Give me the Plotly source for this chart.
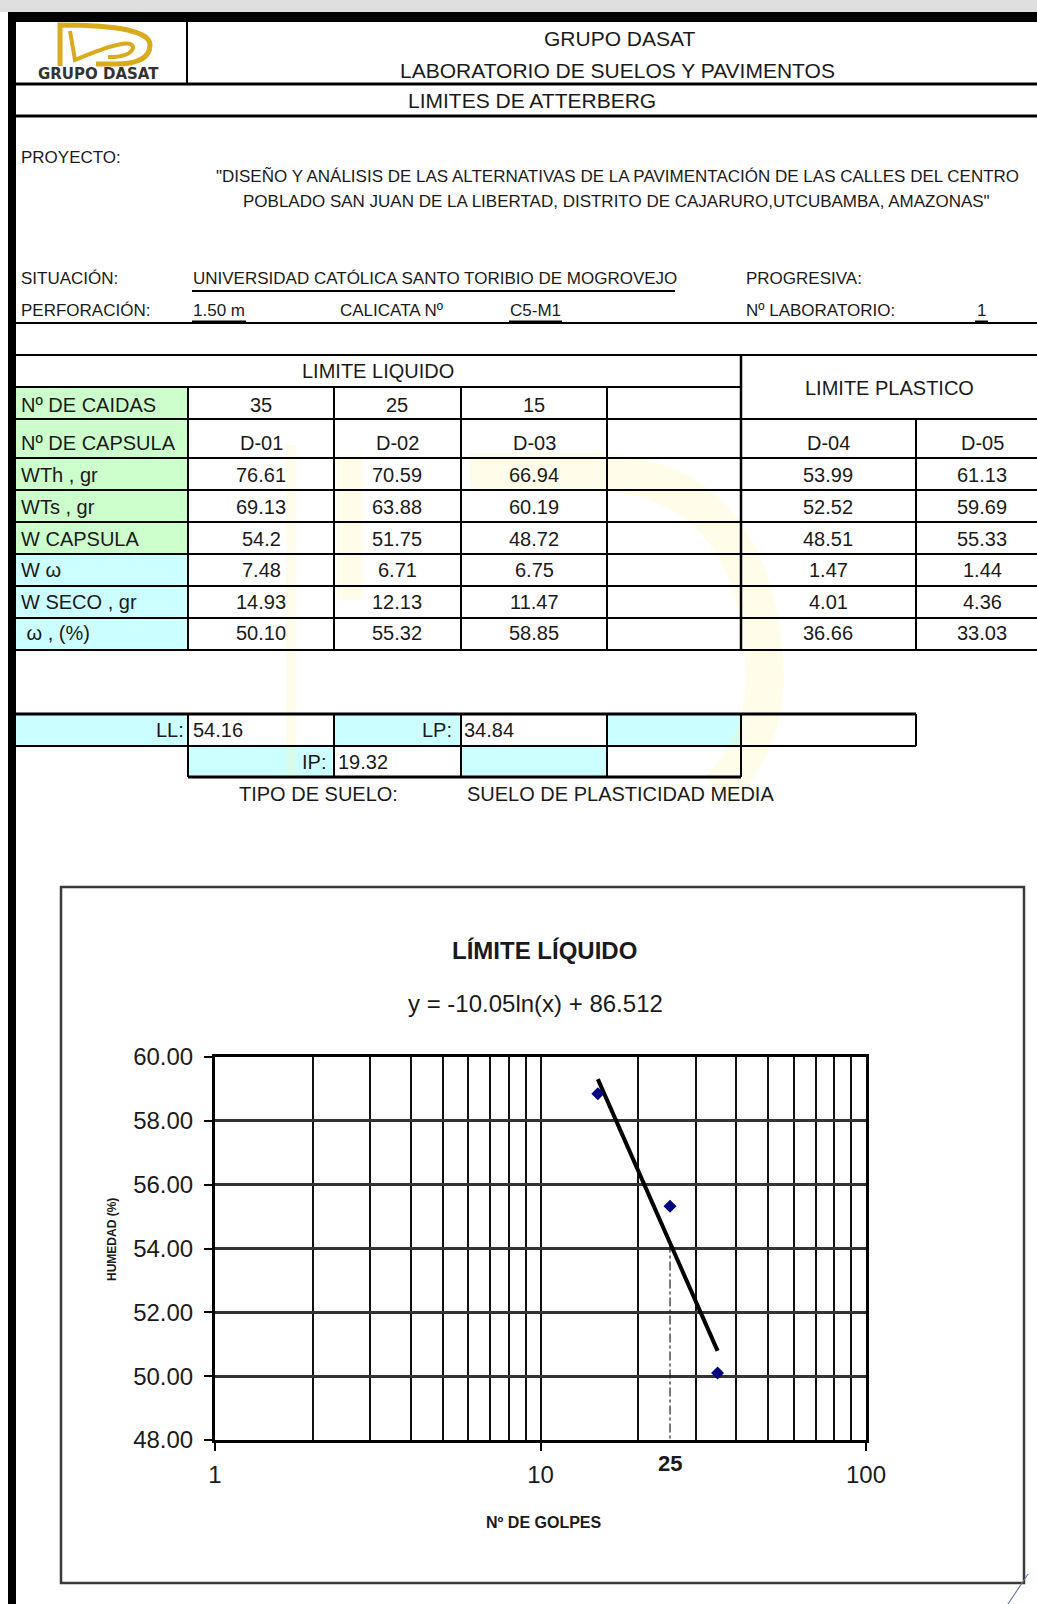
import numpy as np
import plotly.graph_objects as go

W, H = 1037, 1604

# ---------------- data ----------------
golpes = [35, 25, 15]
capsulas_ll = ["D-01", "D-02", "D-03"]
wth_ll = [76.61, 70.59, 66.94]
wts_ll = [69.13, 63.88, 60.19]
wcap_ll = [54.2, 51.75, 48.72]
ww_ll = [7.48, 6.71, 6.75]
wseco_ll = [14.93, 12.13, 11.47]
humedad_ll = [50.10, 55.32, 58.85]

capsulas_lp = ["D-04", "D-05"]
wth_lp = [53.99, 61.13]
wts_lp = [52.52, 59.69]
wcap_lp = [48.51, 55.33]
ww_lp = [1.47, 1.44]
wseco_lp = [4.01, 4.36]
humedad_lp = [36.66, 33.03]

row_labels = ["Nº DE CAIDAS", "Nº DE CAPSULA", "WTh , gr", "WTs , gr",
              "W CAPSULA", "W ω", "W SECO , gr", " ω , (%)"]
limite_liquido = 54.16
limite_plastico = 34.84
indice_plastico = 19.32
golpes_ref = 25
x_tick_vals = [1, 10, 100]
x_tick_text = ["1", "10", "100"]
x_minor_vals = [2, 3, 4, 5, 6, 7, 8, 9, 20, 30, 40, 50, 60, 70, 80, 90]
y_tick_vals = [48, 50, 52, 54, 56, 58, 60]
equation_text = "y = -10.05ln(x) + 86.512"

FONT = "Liberation Sans, Arial, sans-serif"
TXT = "#1a1a1a"


def X(px):
    return px / W


def Y(py):
    return 1 - py / H


shapes = []
annotations = []


def rect(x0, y0, x1, y1, fill=None, lc=None, lw=0):
    shapes.append(dict(type="rect", xref="paper", yref="paper",
                       x0=X(x0), x1=X(x1), y0=Y(y1), y1=Y(y0),
                       fillcolor=fill if fill else "rgba(0,0,0,0)",
                       line=dict(color=lc if lc else "rgba(0,0,0,0)", width=lw),
                       layer="above"))


def hline(x0, x1, y, w=2, c="black"):
    shapes.append(dict(type="line", xref="paper", yref="paper",
                       x0=X(x0), x1=X(x1), y0=Y(y), y1=Y(y),
                       line=dict(color=c, width=w), layer="above"))


def vline(x, y0, y1, w=2, c="black"):
    shapes.append(dict(type="line", xref="paper", yref="paper",
                       x0=X(x), x1=X(x), y0=Y(y0), y1=Y(y1),
                       line=dict(color=c, width=w), layer="above"))


def path(cmds, color, width, fill=None):
    s = ""
    for c, pts in cmds:
        s += c
        coords = []
        for i in range(0, len(pts), 2):
            coords.append(f"{X(pts[i]):.5f},{Y(pts[i+1]):.5f}")
        s += " ".join(coords) + " "
    if fill:
        s += "Z"
    shapes.append(dict(type="path", xref="paper", yref="paper", path=s.strip(),
                       line=dict(color=color, width=width),
                       fillcolor=fill if fill else "rgba(0,0,0,0)", layer="above"))


def txt(x, y, s, size=20, anchor="center", bold=False, color=TXT, family=FONT, angle=0):
    if bold:
        s = f"<b>{s}</b>"
    annotations.append(dict(xref="paper", yref="paper", x=X(x), y=Y(y), text=s,
                            showarrow=False, xanchor=anchor, yanchor="middle",
                            textangle=angle,
                            font=dict(size=size, color=color, family=family)))


# ---------------- page frame ----------------
rect(0, 0, W, 12, fill="#dedede")
rect(8, 12, W, 22, fill="black")
rect(8, 12, 16, H, fill="black")

# ---------------- cell fills ----------------
GREEN = "#ccffcc"
CYAN = "#ccffff"
rect(16, 387, 188, 554, fill=GREEN)
rect(16, 554, 188, 650, fill=CYAN)
rect(16, 714, 188, 746, fill=CYAN)
rect(334, 714, 461, 746, fill=CYAN)
rect(607, 714, 741, 746, fill=CYAN)
rect(188, 746, 334, 777, fill=CYAN)
rect(461, 746, 607, 777, fill=CYAN)

# very faint watermark of the logo
WM = "rgba(255,246,160,0.22)"
path([("M", [291, 445]), ("L", [291, 775])], WM, 10)
path([("M", [350, 455]), ("L", [350, 600])], WM, 26)
path([("M", [470, 472]), ("L", [600, 472]), ("Q", [760, 480, 765, 680]),
      ("Q", [762, 750, 718, 790])], WM, 38)

# ---------------- header ----------------
vline(187, 22, 84, 2)
hline(16, W, 84, 3)
hline(16, W, 116, 3)
hline(16, W, 323, 2)
hline(16, W, 355, 2)

GOLD = "#d8aa1c"
path([("M", [60, 66]), ("L", [60, 25, 112, 25]), ("Q", [150, 25, 150, 45]),
      ("Q", [150, 64, 115, 64]), ("L", [96, 64])], GOLD, 5)
path([("M", [70, 31]), ("L", [75, 60, 100, 39]), ("Q", [134, 35, 133, 48]),
      ("Q", [130, 57, 108, 57])], GOLD, 4)
txt(98, 74, "GRUPO DASAT", size=15, bold=True, color="#333333",
    family="DejaVu Sans, Liberation Sans, sans-serif")

txt(619, 38, "GRUPO DASAT", size=21)
txt(617, 70, "LABORATORIO DE SUELOS Y PAVIMENTOS", size=21)
txt(532, 101, "LIMITES DE ATTERBERG", size=21)

txt(19, 157, "PROYECTO:", size=17, anchor="left")
txt(617, 176, '"DISEÑO Y ANÁLISIS DE LAS ALTERNATIVAS DE LA PAVIMENTACIÓN DE LAS CALLES DEL CENTRO', size=17)
txt(616, 202, 'POBLADO SAN JUAN DE LA LIBERTAD, DISTRITO DE CAJARURO,UTCUBAMBA, AMAZONAS"', size=17)

txt(19, 278, "SITUACIÓN:", size=17, anchor="left")
txt(191, 278, "UNIVERSIDAD CATÓLICA SANTO TORIBIO DE MOGROVEJO", size=17, anchor="left")
hline(192, 675, 291, 2)
txt(744, 278, "PROGRESIVA:", size=17, anchor="left")

txt(19, 310, "PERFORACIÓN:", size=17, anchor="left")
txt(191, 310, "1.50 m", size=17, anchor="left")
hline(192, 246, 322, 3)
txt(338, 310, "CALICATA Nº", size=17, anchor="left")
txt(508, 310, "C5-M1", size=17, anchor="left")
hline(509, 562, 322, 3)
txt(744, 310, "Nº LABORATORIO:", size=17, anchor="left")
txt(981, 310, "1", size=17)
hline(975, 988, 322, 3)

# ---------------- main table ----------------
hline(16, 741, 387, 2)
for yy in [419, 458, 490, 522, 554, 586, 618, 650]:
    hline(16, W, yy, 2)
for xx in [188, 334, 461, 607]:
    vline(xx, 387, 650, 2)
vline(741, 355, 650, 2.5)
vline(916, 419, 650, 2)

txt(378, 371, "LIMITE LIQUIDO", size=20)
txt(889, 388, "LIMITE PLASTICO", size=20)

row_y = [405, 443, 475, 507, 539, 570, 602, 633]
for lab, yy in zip(row_labels, row_y):
    txt(19, yy, lab, size=20, anchor="left")

ll_cols = [261, 397, 534]
lp_cols = [828, 982]
ll_rows = [
    [str(v) for v in golpes],
    capsulas_ll,
    [str(v) for v in wth_ll],
    [str(v) for v in wts_ll],
    [str(v) for v in wcap_ll],
    [str(v) for v in ww_ll],
    [str(v) for v in wseco_ll],
    [f"{v:.2f}" for v in humedad_ll],
]
lp_rows = [
    None,
    capsulas_lp,
    [str(v) for v in wth_lp],
    [str(v) for v in wts_lp],
    [str(v) for v in wcap_lp],
    [str(v) for v in ww_lp],
    [str(v) for v in wseco_lp],
    [f"{v:.2f}" for v in humedad_lp],
]
for r, yy in enumerate(row_y):
    for xx, s in zip(ll_cols, ll_rows[r]):
        txt(xx, yy, s, size=20)
    if lp_rows[r]:
        for xx, s in zip(lp_cols, lp_rows[r]):
            txt(xx, yy, s, size=20)

# ---------------- summary rows ----------------
hline(16, 916, 714, 3)
hline(16, 916, 746, 2)
hline(188, 741, 777, 3)
for xx in [188, 334, 461, 607, 741]:
    vline(xx, 714, 777, 2)
vline(916, 714, 746, 2)

txt(186, 730, "LL:", size=20, anchor="right")
txt(191, 730, f"{limite_liquido:.2f}", size=20, anchor="left")
txt(454, 730, "LP:", size=20, anchor="right")
txt(462, 730, f"{limite_plastico:.2f}", size=20, anchor="left")
txt(328, 762, "IP:", size=20, anchor="right")
txt(336, 762, f"{indice_plastico:.2f}", size=20, anchor="left")

txt(237, 794, "TIPO DE SUELO:", size=20, anchor="left")
txt(465, 794, "SUELO DE PLASTICIDAD MEDIA", size=20, anchor="left")

# ---------------- chart frame & texts ----------------
rect(61, 887, 1024, 1583, lc="#3a3a3a", lw=2.5)
txt(544, 950, "LÍMITE LÍQUIDO", size=24, bold=True)
txt(535, 1003, equation_text, size=24)
txt(670, 1463, str(golpes_ref), size=22, bold=True)
txt(544, 1522, "Nº DE GOLPES", size=16, bold=True)
txt(112, 1240, "HUMEDAD (%)", size=12, bold=True, angle=-90)

path([("M", [1008, 1604]), ("L", [1028, 1574])], "#6a7aa8", 1.2)

# ---------------- plot ----------------
fig = go.Figure()

coef = np.polyfit(np.log(golpes), humedad_ll, 1)
x_fit = np.array([min(golpes), max(golpes)], dtype=float)
y_fit = coef[0] * np.log(x_fit) + coef[1]

fig.add_trace(go.Scatter(x=[golpes_ref, golpes_ref], y=[limite_liquido, y_tick_vals[0]],
                         mode="lines", line=dict(color="#222222", width=1.2, dash="dashdot"),
                         hoverinfo="skip"))
fig.add_trace(go.Scatter(x=x_fit, y=y_fit, mode="lines",
                         line=dict(color="black", width=4), hoverinfo="skip"))
fig.add_trace(go.Scatter(x=golpes, y=humedad_ll, mode="markers",
                         marker=dict(symbol="diamond", size=10, color="#000080")))

fig.update_layout(
    template="none",
    width=W, height=H, autosize=False,
    margin=dict(l=0, r=0, t=0, b=0, pad=0, autoexpand=False),
    paper_bgcolor="white", plot_bgcolor="white",
    showlegend=False,
    shapes=shapes, annotations=annotations,
    font=dict(family=FONT, color=TXT),
    xaxis=dict(type="log", range=[0, 2], domain=[X(215), X(866)], automargin=False,
               tickmode="array", tickvals=x_tick_vals, ticktext=x_tick_text,
               ticks="outside", ticklen=8, tickwidth=2, tickcolor="black",
               ticklabelstandoff=3,
               showgrid=True, gridcolor="#111111", gridwidth=2,
               minor=dict(tickmode="array", tickvals=x_minor_vals, showgrid=True,
                          gridcolor="#111111", gridwidth=2, ticks=""),
               showline=True, linecolor="black", linewidth=3, mirror=True,
               zeroline=False, tickfont=dict(size=24, color=TXT, family=FONT)),
    yaxis=dict(range=[48, 60], domain=[Y(1440), Y(1057)], automargin=False,
               tickmode="array", tickvals=y_tick_vals, tickformat=".2f",
               ticks="outside", ticklen=8, tickwidth=2, tickcolor="black",
               ticklabelstandoff=6,
               showgrid=True, gridcolor="#333333", gridwidth=3,
               showline=True, linecolor="black", linewidth=3, mirror=True,
               zeroline=False, tickfont=dict(size=24, color=TXT, family=FONT)),
)

fig.write_html("out.html", config={"displayModeBar": False},
               post_script="document.body.style.margin='0';"
                           "document.body.style.overflow='hidden';"
                           "document.documentElement.style.overflow='hidden';")
